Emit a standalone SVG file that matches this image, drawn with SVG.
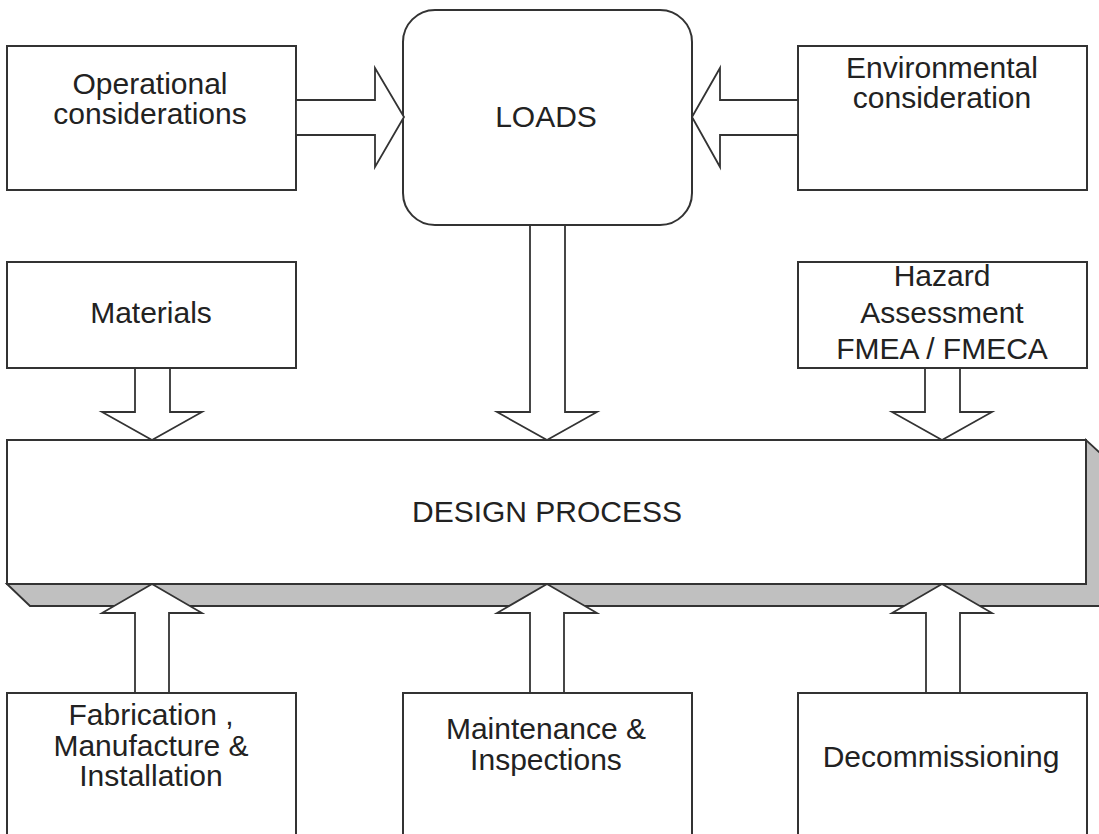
<svg xmlns="http://www.w3.org/2000/svg" width="1099" height="834" viewBox="0 0 1099 834">
<style>
.box{fill:#fff;stroke:#333;stroke-width:2}
.arr{fill:#fff;stroke:#333;stroke-width:1.8;stroke-linejoin:miter}
.shadow{fill:#c0c0c0;stroke:#333;stroke-width:1.8}
text{font-family:"Liberation Sans",Arial,sans-serif;font-size:30px;fill:#222;text-anchor:middle}
</style>
<rect width="1099" height="834" fill="#fff"/>
<g id="design-process">
<polygon class="shadow" points="7,584 30,606 1110,606 1110,462 1086,440 1086,584"/>
<rect class="box" x="7" y="440" width="1079" height="144"/>
<text x="547" y="522">DESIGN PROCESS</text>
</g>
<g id="operational">
<rect class="box" x="7" y="46" width="289" height="144"/>
<text x="150" y="94">Operational</text>
<text x="150" y="124">considerations</text>
</g>
<g id="loads">
<rect class="box" x="403" y="10" width="289" height="215" rx="32" ry="32"/>
<text x="546" y="127">LOADS</text>
</g>
<g id="environmental">
<rect class="box" x="798" y="46" width="289" height="144"/>
<text x="942" y="78">Environmental</text>
<text x="942" y="108">consideration</text>
</g>
<g id="materials">
<rect class="box" x="7" y="262" width="289" height="106"/>
<text x="151" y="323">Materials</text>
</g>
<g id="hazard">
<rect class="box" x="798" y="262" width="289" height="106"/>
<text x="942" y="286">Hazard</text>
<text x="942" y="323">Assessment</text>
<text x="942" y="359">FMEA / FMECA</text>
</g>
<g id="fabrication">
<rect class="box" x="7" y="693" width="289" height="160"/>
<text x="151" y="725">Fabrication ,</text>
<text x="151" y="756">Manufacture &amp;</text>
<text x="151" y="786">Installation</text>
</g>
<g id="maintenance">
<rect class="box" x="403" y="693" width="289" height="160"/>
<text x="546" y="739">Maintenance &amp;</text>
<text x="546" y="770">Inspections</text>
</g>
<g id="decommissioning">
<rect class="box" x="798" y="693" width="289" height="160"/>
<text x="941" y="767">Decommissioning</text>
</g>
<g id="connectors">
<polygon class="arr" points="296,100 375,100 375,68 404,117 375,167 375,135 296,135"/>
<polygon class="arr" points="798,100 720,100 720,68 692,117 720,167 720,135 798,135"/>
<polygon class="arr" points="135,368 170,368 170,412 202,412 152,440 102,412 135,412"/>
<polygon class="arr" points="530,225 565,225 565,412 597,412 547,440 497,412 530,412"/>
<polygon class="arr" points="925,368 960,368 960,412 992,412 942,440 892,412 925,412"/>
<polygon class="arr" points="135,693 169,693 169,613 202,613 152,584 102,613 135,613"/>
<polygon class="arr" points="530,693 564,693 564,613 597,613 547,584 497,613 530,613"/>
<polygon class="arr" points="926,693 960,693 960,613 992,613 942,584 892,613 926,613"/>
</g>
</svg>
